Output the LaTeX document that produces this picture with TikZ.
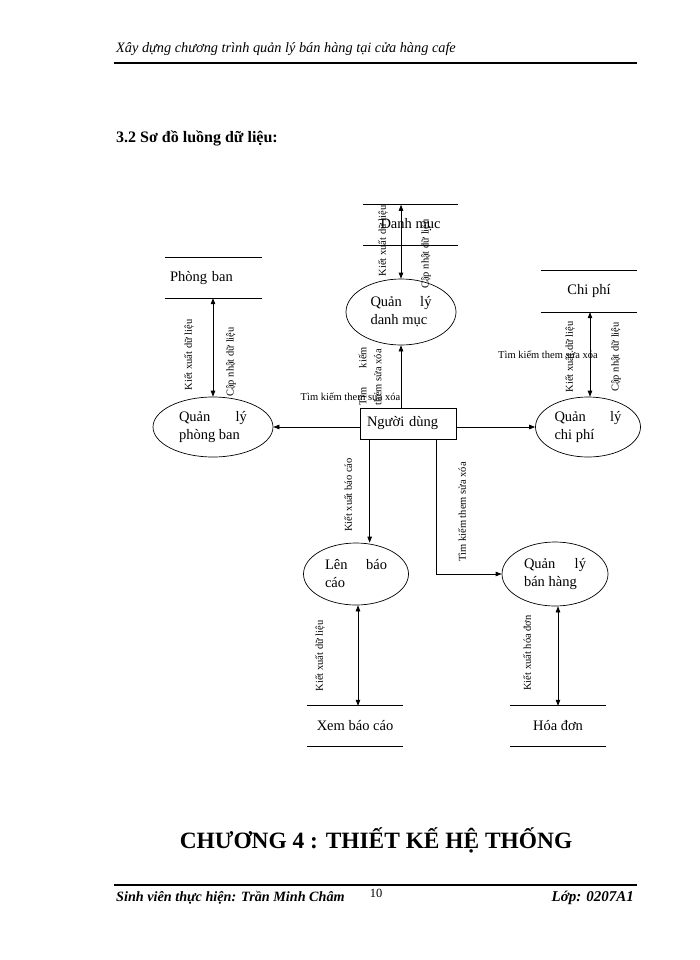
\documentclass[tikz,border=0pt]{standalone}
\usepackage{fontspec}
\setmainfont{Liberation Serif}
\usetikzlibrary{arrows.meta,shapes.geometric,calc}
\newcommand\proctext[3]{\parbox{#1}{\makebox[#1][s]{#2}\\#3}}
\begin{document}
\begin{tikzpicture}[x=1pt,y=-1pt,
  ln/.style={line width=0.7pt},
  arr/.style={ln,-{Triangle[length=6pt,width=4.5pt]}},
  dbl/.style={ln,{Triangle[length=6pt,width=4.5pt]}-{Triangle[length=6pt,width=4.5pt]}},
  proc/.style={ellipse,draw,ln,inner sep=0pt,font=\fontsize{14.5}{18}\selectfont},
  store/.style={inner sep=0pt,font=\fontsize{14.5}{18}\selectfont},
  lab/.style={inner sep=0pt,font=\fontsize{10.5}{12}\selectfont},
  vlab/.style={lab,rotate=90},
  rule/.style={line width=1.5pt}]
\fill[white] (0,0) rectangle (700,960);
\useasboundingbox (0,0) rectangle (700,960);

% header and footer
\node[anchor=west,inner sep=0pt,font=\fontsize{14.3}{17}\selectfont\itshape] (hdr) at (116,49) {Xây dựng chương trình quản lý bán hàng tại cửa hàng cafe};
\coordinate (hl1) at (114,63);
\coordinate (hl2) at (637,63);
\draw[rule] (hl1) -- (hl2);
\node[anchor=west,inner sep=0pt,font=\fontsize{16}{19}\selectfont\bfseries] (sec) at (116,138) {3.2 Sơ đồ luồng dữ liệu:};
\node[inner sep=0pt,font=\fontsize{23.4}{28}\selectfont\bfseries] (chap) at (376,840) {CHƯƠNG 4 : THIẾT KẾ HỆ THỐNG};
\coordinate (fl1) at (114,885);
\coordinate (fl2) at (637,885);
\draw[rule] (fl1) -- (fl2);
\node[anchor=west,inner sep=0pt,font=\fontsize{14.2}{17}\selectfont\bfseries\itshape] (ftl) at (116,898) {Sinh viên thực hiện: Trần Minh Châm};
\node[inner sep=0pt,font=\fontsize{12.5}{14}\selectfont] (pg) at (376,893) {10};
\node[anchor=east,inner sep=0pt,font=\fontsize{15}{17}\selectfont\bfseries\itshape] (ftr) at (634,898) {Lớp: 0207A1};

% processes
\node[proc,minimum width=110pt,minimum height=66pt] (dm) at (401,312) {\proctext{61pt}{Quản lý}{danh mục}};
\node[proc,minimum width=120pt,minimum height=60pt] (pb) at (213,427) {\proctext{68pt}{Quản lý}{phòng ban}};
\node[proc,minimum width=105pt,minimum height=60pt] (cp) at (588,427) {\proctext{67pt}{Quản lý}{chi phí}};
\node[proc,minimum width=105pt,minimum height=62pt] (lbc) at (356,574) {\proctext{62pt}{Lên báo}{cáo}};
\node[proc,minimum width=106pt,minimum height=64pt] (bh) at (555,574) {\proctext{62pt}{Quản lý}{bán hàng}};

% user box
\node[draw,ln,minimum width=96pt,minimum height=31pt,inner sep=0pt,text width=82pt,align=left,font=\fontsize{14.5}{18}\selectfont] (nd) at (408,423.5) {Người dùng};

% data stores
\node[store,minimum width=95pt,minimum height=40pt] (sdm) at (410.5,225) {Danh mục};
\node[store,minimum width=97pt,minimum height=40pt,text width=87pt,align=left] (spb) at (213.5,278) {Phòng ban};
\node[store,minimum width=96pt,minimum height=41pt] (scp) at (589,291.5) {Chi phí};
\node[store,minimum width=96pt,minimum height=40pt] (sxb) at (355,726) {Xem báo cáo};
\node[store,minimum width=96pt,minimum height=40pt] (shd) at (558,726) {Hóa đơn};
\foreach \s in {sdm,spb,scp,sxb,shd}{
  \draw[ln] (\s.north west) -- (\s.north east);
  \draw[ln] (\s.south west) -- (\s.south east);
}

% store <-> process
\draw[dbl] (dm.north) -- (dm.north |- sdm.north);
\draw[dbl] (pb.north) -- (pb.north |- spb.south);
\draw[dbl] ([xshift=2pt]cp.north) -- ([xshift=2pt]cp.north |- scp.south);
\draw[dbl] ([xshift=2pt]lbc.south) -- ([xshift=2pt]lbc.south |- sxb.north);
\draw[dbl] ([xshift=3pt]bh.south) -- ([xshift=3pt]bh.south |- shd.north);

% user -> processes
\draw[arr] (nd.north -| dm.south) -- (dm.south);
\draw[arr] (nd.west |- pb.east) -- (pb.east);
\draw[arr] (nd.east |- cp.west) -- (cp.west);
\draw[arr] ([xshift=10pt]nd.south west) -- ([xshift=10pt]nd.south west |- lbc.north);
\draw[arr] ([xshift=-20pt]nd.south east) |- (bh.west);

% labels
\node[vlab] (l1) at (383,241) {Kiết xuất dữ liệu};
\node[vlab] (l2) at (426,254) {Cập nhật dữ liệu};
\node[vlab] (l3) at (189,355) {Kiết xuất dữ liệu};
\node[vlab] (l4) at (231,362) {Cập nhật dữ liệu};
\node[vlab] (l5) at (570,357) {Kiết xuất dữ liệu};
\node[vlab] (l6) at (616,357) {Cập nhật dữ liệu};
\node[lab] (l7) at (548,355) {Tìm kiếm them sửa xóa};
\node[lab] (l8) at (350.5,397) {Tìm kiếm them sửa xóa};
\node[lab,rotate=90,font=\fontsize{10.5}{15}\selectfont] (l9) at (370,376) {\parbox{58pt}{\makebox[58pt][s]{Tìm kiếm}\\them sửa xóa}};
\node[vlab] (l10) at (348,495) {Kiết xuất báo cáo};
\node[vlab] (l11) at (462,512) {Tìm kiếm them sửa xóa};
\node[vlab] (l12) at (320,656) {Kiết xuất dữ liệu};
\node[vlab] (l13) at (527,653) {Kiết xuất hóa đơn};
\end{tikzpicture}
\end{document}
